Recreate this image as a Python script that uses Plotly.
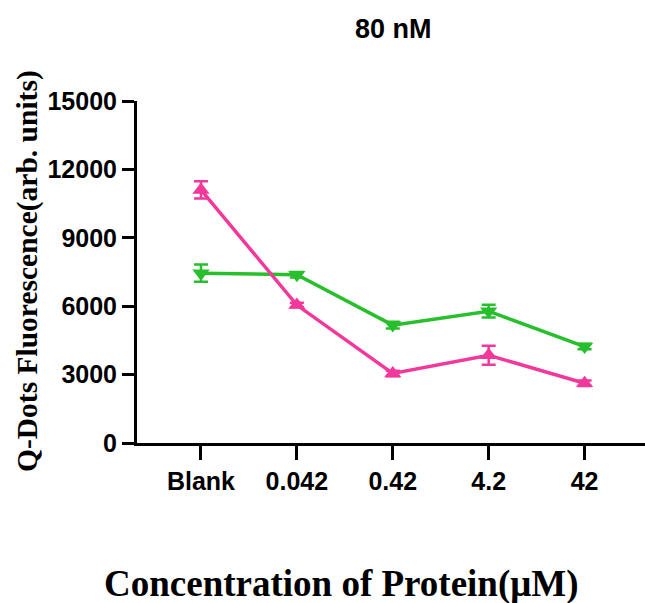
import plotly.graph_objects as go

categories = ["Blank", "0.042", "0.42", "4.2", "42"]
pink_values = [11100, 6050, 3050, 3850, 2620]
pink_err = [380, 100, 120, 420, 120]
green_values = [7450, 7380, 5170, 5780, 4230]
green_err = [380, 120, 150, 280, 120]
y_ticks = [0, 3000, 6000, 9000, 12000, 15000]

PINK = "#F2399B"
GREEN = "#27BF2B"

x_idx = list(range(len(categories)))

fig = go.Figure()
fig.add_trace(go.Scatter(
    x=x_idx, y=green_values, mode="lines+markers",
    line=dict(color=GREEN, width=3.5),
    marker=dict(symbol="triangle-down", size=15, color=GREEN),
    error_y=dict(type="data", array=green_err, color=GREEN, thickness=2.5, width=7),
    showlegend=False, cliponaxis=False,
))
fig.add_trace(go.Scatter(
    x=x_idx, y=pink_values, mode="lines+markers",
    line=dict(color=PINK, width=3.5),
    marker=dict(symbol="triangle-up", size=15, color=PINK),
    error_y=dict(type="data", array=pink_err, color=PINK, thickness=2.5, width=7),
    showlegend=False, cliponaxis=False,
))

tickfont = dict(family="Liberation Sans, Arial", size=25, color="black", weight="bold")

fig.update_layout(
    width=645, height=603,
    margin=dict(l=137, r=0, t=101, b=160),
    paper_bgcolor="white", plot_bgcolor="white",
    xaxis=dict(
        range=[-0.667, 4.63], tickmode="array", tickvals=x_idx, ticktext=categories,
        showline=True, linecolor="black", linewidth=3, ticks="outside",
        ticklen=14, tickwidth=3, tickcolor="black", showgrid=False, zeroline=False,
        tickfont=tickfont,
    ),
    yaxis=dict(
        range=[0, 15000], tickmode="array", tickvals=y_ticks,
        ticktext=[str(v) for v in y_ticks],
        showline=True, linecolor="black", linewidth=3, ticks="outside",
        ticklen=12, tickwidth=3, tickcolor="black", showgrid=False, zeroline=False,
        tickfont=tickfont,
    ),
    annotations=[
        dict(text="<b>80 nM</b>", x=393, y=603 - 29, xref="paper", yref="paper",
             showarrow=False, font=dict(family="Liberation Sans, Arial", size=27, color="black")),
        dict(text="<b>Concentration of Protein(μM)</b>", x=341, y=603 - 584,
             xref="paper", yref="paper", showarrow=False,
             font=dict(family="Liberation Serif, Times New Roman", size=37, color="black")),
        dict(text="<b>Q-Dots Fluorescence(arb. units)</b>", x=27, y=603 - 271,
             xref="paper", yref="paper", showarrow=False, textangle=-90,
             font=dict(family="Liberation Serif, Times New Roman", size=29.5, color="black")),
    ],
)

# convert pixel positions of annotations into paper coordinates
pw = 645 - 137
ph = 603 - 101 - 160
for a in fig.layout.annotations:
    px, py = a.x, a.y
    a.x = (px - 137) / pw
    a.y = (py - 160) / ph
    a.xanchor = "center"
    a.yanchor = "middle"

fig.write_html("out.html")
